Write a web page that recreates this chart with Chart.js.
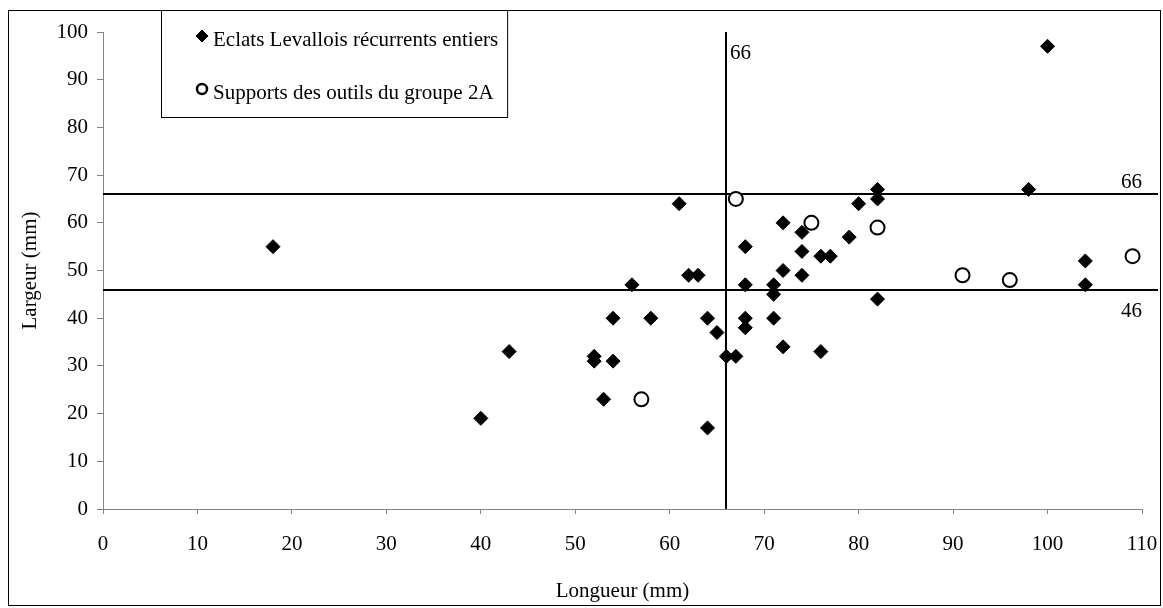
<!DOCTYPE html>
<html lang="fr">
<head>
<meta charset="utf-8">
<title>Longueur / Largeur</title>
<script src="https://cdn.jsdelivr.net/npm/chart.js@4.4.1/dist/chart.umd.min.js"></script>
<style>
    html, body { margin: 0; padding: 0; background: #ffffff; }
    #wrap { width: 1163px; height: 608px; position: relative; }
</style>
</head>
<body>
<div id="wrap"><canvas id="grafica"></canvas></div>
<script>
// Eclats Levallois récurrents entiers
const eclatsLongueur = [18, 40, 43, 52, 52, 53, 54, 54, 56, 58, 61, 62, 63, 64, 64, 65, 66, 67, 68, 68, 68, 68,
    71, 71, 71, 72, 72, 72, 74, 74, 74, 76, 77, 76, 79, 80, 82, 82, 82, 98, 100, 104, 104];
const eclatsLargeur = [55, 19, 33, 32, 31, 23, 40, 31, 47, 40, 64, 49, 49, 40, 17, 37, 32, 32, 55, 47, 40, 38,
    47, 45, 40, 60, 50, 34, 58, 54, 49, 53, 53, 33, 57, 64, 67, 65, 44, 67, 97, 52, 47];

// Supports des outils du groupe 2A
const supportsLongueur = [57, 67, 75, 82, 91, 96, 109];
const supportsLargeur = [23, 65, 60, 59, 49, 48, 53];

// droites de référence
const seuilLongueur = [66];
const seuilLargeur = [66, 46];

const xTicks = [0, 10, 20, 30, 40, 50, 60, 70, 80, 90, 100, 110];
const yTicks = [0, 10, 20, 30, 40, 50, 60, 70, 80, 90, 100];

const nomsSeries = ['Eclats Levallois récurrents entiers', 'Supports des outils du groupe 2A'];

(function(){

    document.addEventListener('DOMContentLoaded', function() {
        const police = '"Liberation Serif", "Times New Roman", serif';
        const taille = 21;
        const gris = '#858585';

        const toPoints = (xs, ys) => xs.map((x, i) => ({ x: x, y: ys[i] }));

        // marqueurs de la légende (plus petits que ceux du graphique)
        const marqueurs = [
            { pointStyle: 'rectRot', radius: 6, borderWidth: 1, fill: '#000' },
            { pointStyle: 'circle', radius: 5, borderWidth: 2.5, fill: '#fff' }
        ];

        // cadre extérieur
        const cadre = {
            id: 'cadre',
            beforeDraw(chart) {
                const ctx = chart.ctx;
                ctx.save();
                ctx.fillStyle = '#fff';
                ctx.fillRect(0, 0, chart.width, chart.height);
                ctx.strokeStyle = '#000';
                ctx.lineWidth = 1;
                ctx.strokeRect(8.5, 10.5, chart.width - 11, chart.height - 13);
                ctx.restore();
            }
        };

        // droites 66 / 46 et leurs étiquettes
        const seuils = {
            id: 'seuils',
            beforeDatasetsDraw(chart) {
                const ctx = chart.ctx;
                const sx = chart.scales.x, sy = chart.scales.y;
                const area = chart.chartArea;
                ctx.save();
                ctx.strokeStyle = '#000';
                ctx.lineWidth = 2;
                ctx.fillStyle = '#000';
                ctx.font = taille + 'px ' + police;
                seuilLongueur.forEach(v => {
                    const px = Math.round(sx.getPixelForValue(v));
                    ctx.beginPath();
                    ctx.moveTo(px, sy.getPixelForValue(0));
                    ctx.lineTo(px, sy.getPixelForValue(100));
                    ctx.stroke();
                    ctx.textAlign = 'left';
                    ctx.textBaseline = 'middle';
                    ctx.fillText(String(v), px + 4, sy.getPixelForValue(95.5));
                });
                seuilLargeur.forEach((v, i) => {
                    const py = Math.round(sy.getPixelForValue(v));
                    ctx.beginPath();
                    ctx.moveTo(area.left, py);
                    ctx.lineTo(area.right + 16, py);
                    ctx.stroke();
                    ctx.textAlign = 'right';
                    ctx.textBaseline = 'middle';
                    ctx.fillText(String(v), area.right, i === 0 ? py - 12 : py + 21);
                });
                ctx.restore();
            }
        };

        // légende encadrée en haut à gauche
        const legende = {
            id: 'legende',
            afterDraw(chart) {
                const ctx = chart.ctx;
                ctx.save();
                ctx.font = taille + 'px ' + police;
                const largeur = Math.max(...nomsSeries.map(t => ctx.measureText(t).width));
                const x0 = 161, y0 = 10;
                ctx.fillStyle = '#fff';
                ctx.fillRect(x0 + 0.5, y0 + 0.5, largeur + 61, 107);
                ctx.strokeStyle = '#000';
                ctx.lineWidth = 1;
                ctx.strokeRect(x0 + 0.5, y0 + 0.5, largeur + 61, 107);
                const lignes = [37, 90];
                nomsSeries.forEach((t, i) => {
                    const m = marqueurs[i];
                    ctx.fillStyle = m.fill;
                    ctx.strokeStyle = '#000';
                    ctx.lineWidth = m.borderWidth;
                    Chart.helpers.drawPoint(ctx, m, x0 + 41, lignes[i] - 1);
                    ctx.fillStyle = '#000';
                    ctx.textAlign = 'left';
                    ctx.textBaseline = 'middle';
                    ctx.fillText(t, x0 + 52, lignes[i] + 3);
                });
                ctx.restore();
            }
        };

        const ctx = document.getElementById('grafica').getContext('2d');
        new Chart(ctx, {
            type: 'scatter',
            data: {
                datasets: [
                    {
                        label: nomsSeries[1],
                        data: toPoints(supportsLongueur, supportsLargeur),
                        pointStyle: 'circle',
                        pointRadius: 7,
                        pointBorderWidth: 2,
                        borderColor: '#000',
                        backgroundColor: '#fff',
                        order: 0
                    },
                    {
                        label: nomsSeries[0],
                        data: toPoints(eclatsLongueur, eclatsLargeur),
                        pointStyle: 'rectRot',
                        pointRadius: 7,
                        pointBorderWidth: 1,
                        borderColor: '#000',
                        backgroundColor: '#000',
                        order: 1
                    }
                ]
            },
            options: {
                responsive: true,
                maintainAspectRatio: false,
                animation: false,
                layout: {
                    padding: { left: 8, top: 32, right: 21, bottom: 0 }
                },
                plugins: {
                    legend: { display: false },
                    tooltip: { enabled: false }
                },
                scales: {
                    x: {
                        type: 'linear',
                        min: 0,
                        max: 110,
                        afterFit: s => { s.height = 99; s.paddingLeft = 0; s.paddingRight = 0; },
                        afterBuildTicks: s => { s.ticks = xTicks.map(v => ({ value: v })); },
                        ticks: {
                            color: '#000',
                            padding: 18,
                            maxRotation: 0,
                            font: { family: police, size: taille }
                        },
                        grid: { drawOnChartArea: false, drawTicks: true, tickLength: 5, color: gris },
                        border: { color: gris, width: 1 },
                        title: {
                            display: true,
                            text: 'Longueur (mm)',
                            color: '#000',
                            padding: { top: 0, bottom: 4 },
                            font: { family: police, size: taille }
                        }
                    },
                    y: {
                        type: 'linear',
                        min: 0,
                        max: 100,
                        afterFit: s => { s.width = 95; s.paddingTop = 0; s.paddingBottom = 0; },
                        afterBuildTicks: s => { s.ticks = yTicks.map(v => ({ value: v })); },
                        ticks: {
                            color: '#000',
                            padding: 9,
                            font: { family: police, size: taille }
                        },
                        grid: { drawOnChartArea: false, drawTicks: true, tickLength: 6, color: gris },
                        border: { color: gris, width: 1 },
                        title: {
                            display: true,
                            text: 'Largeur (mm)',
                            color: '#000',
                            padding: { top: 10, bottom: 0 },
                            font: { family: police, size: taille }
                        }
                    }
                }
            },
            plugins: [cadre, seuils, legende]
        });
    });

})();
</script>
</body>
</html>
